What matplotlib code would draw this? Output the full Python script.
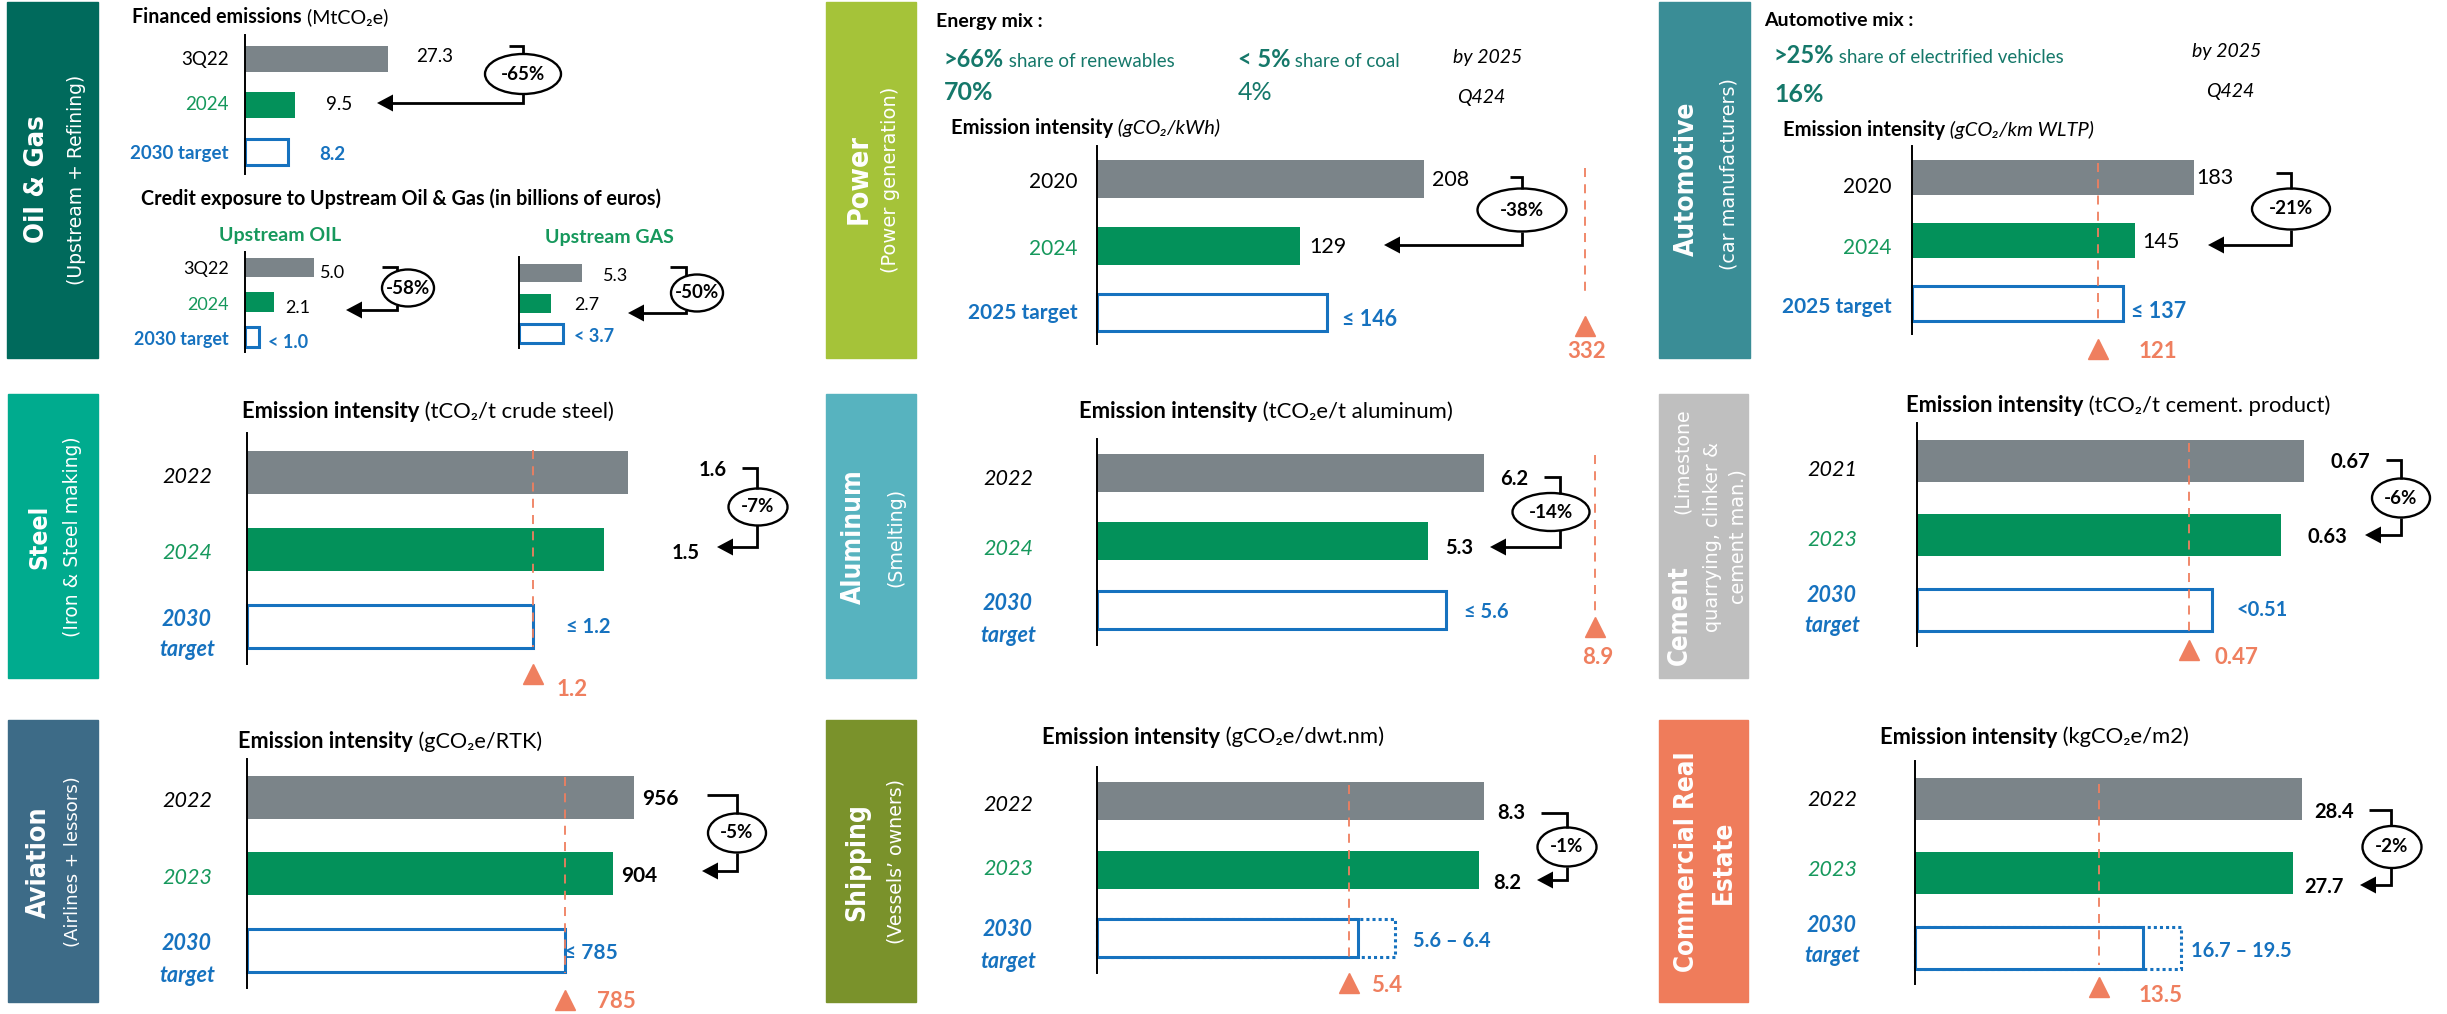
import numpy as np
import matplotlib
matplotlib.use('Agg')
import matplotlib.pyplot as plt
from matplotlib import font_manager as fm
from matplotlib.patches import Rectangle, Ellipse, Polygon
from matplotlib.transforms import blended_transform_factory

# ---------------- data ----------------
oil_cats = ['3Q22', '2024', '2030 target']
oil_fin_vals = [27.3, 9.5, 8.2]
oil_fin_labels = ['27.3', '9.5', '8.2']
oil_fin_change = '-65%'
up_oil_vals = [5.0, 2.1, 1.0]
up_oil_labels = ['5.0', '2.1', '< 1.0']
up_oil_change = '-58%'
up_gas_vals = [5.3, 2.7, 3.7]
up_gas_labels = ['5.3', '2.7', '< 3.7']
up_gas_change = '-50%'

power_cats = ['2020', '2024', '2025 target']
power_vals = [208, 129, 146]
power_labels = ['208', '129', '≤ 146']
power_change = '-38%'
power_ref = 332
power_mix_targets = ['>66%', '< 5%']
power_mix_desc = [' share of renewables', ' share of coal']
power_mix_actual = ['70%', '4%']

auto_cats = ['2020', '2024', '2025 target']
auto_vals = [183, 145, 137]
auto_labels = ['183', '145', '≤ 137']
auto_change = '-21%'
auto_ref = 121
auto_mix_target = '>25%'
auto_mix_desc = ' share of electrified vehicles'
auto_mix_actual = '16%'

steel_cats = ['2022', '2024', '2030 target']
steel_vals = [1.6, 1.5, 1.2]
steel_labels = ['1.6', '1.5', '≤ 1.2']
steel_change = '-7%'
steel_ref = 1.2

alu_cats = ['2022', '2024', '2030 target']
alu_vals = [6.2, 5.3, 5.6]
alu_labels = ['6.2', '5.3', '≤ 5.6']
alu_change = '-14%'
alu_ref = 8.9

cem_cats = ['2021', '2023', '2030 target']
cem_vals = [0.67, 0.63, 0.51]
cem_labels = ['0.67', '0.63', '<0.51']
cem_change = '-6%'
cem_ref = 0.47

avi_cats = ['2022', '2023', '2030 target']
avi_vals = [956, 904, 785]
avi_labels = ['956', '904', '≤ 785']
avi_change = '-5%'
avi_ref = 785

ship_cats = ['2022', '2023', '2030 target']
ship_vals = [8.3, 8.2, 5.6]
ship_upper = 6.4
ship_labels = ['8.3', '8.2', '5.6 – 6.4']
ship_change = '-1%'
ship_ref = 5.4

cre_cats = ['2022', '2023', '2030 target']
cre_vals = [28.4, 27.7, 16.7]
cre_upper = 19.5
cre_labels = ['28.4', '27.7', '16.7 – 19.5']
cre_change = '-2%'
cre_ref = 13.5

# ---------------- style ----------------
GREY = '#7B8489'
GREEN = '#03915A'
GREEN_T = '#16985C'
BLUE = '#1672BF'
ORANGE = '#EF7F5F'
TEAL = '#15786A'
FONT = ['Lato', 'DejaVu Sans']
BOXFONT_SUB = ['DejaVu Sans']

# pick a condensed / narrow bold face for the sector names if one is installed
BOXFONT, BOXSTRETCH = ['DejaVu Sans'], 'normal'
_cands = []
for f in fm.fontManager.ttflist:
    st = str(f.stretch).lower()
    if 'condensed' in st or 'narrow' in f.name.lower() or 'condensed' in f.name.lower():
        _cands.append(f)
if _cands:
    _cands.sort(key=lambda f: (0 if 'DejaVu' in f.name else 1 if 'Liberation' in f.name else 2))
    BOXFONT, BOXSTRETCH = [_cands[0].name], str(_cands[0].stretch)

W, H = 2447, 1014
fig = plt.figure(figsize=(W / 100, H / 100), dpi=100)
P = fig.add_axes([0, 0, 1, 1])
P.set_xlim(0, W)
P.set_ylim(H, 0)
P.axis('off')
R = fig.canvas.get_renderer()


def T(x, y, s, size=14, weight='normal', style='normal', color='black', ha='left',
      va='center', rot=0, family=FONT, **kw):
    return P.text(x, y, s, fontsize=size, fontweight=weight, fontstyle=style, color=color,
                  ha=ha, va=va, rotation=rot, family=family, **kw)


def width(t):
    return t.get_window_extent(renderer=R).width


def line(x, y, parts, fit=None, va='center'):
    texts = [T(x, y, s, va=va, **kw) for s, kw in parts]
    if fit:
        tot = sum(width(t) for t in texts)
        f = fit / tot
        for t in texts:
            t.set_fontsize(t.get_fontsize() * f)
    cx = x
    for t in texts:
        t.set_x(cx)
        cx += width(t)
    return texts


def boxtext(x, y, s, length, weight='bold', ha='center', size=None, color='white'):
    if weight == 'bold':
        fam, stretch = BOXFONT, BOXSTRETCH
    else:
        fam, stretch = BOXFONT_SUB, 'normal'
    t = T(x, y, s, size=20, weight=weight, family=fam, color=color, rot=90, ha=ha,
          va='center', rotation_mode='anchor', fontstretch=stretch)
    if size is None:
        h = t.get_window_extent(renderer=R).height
        size = 20 * length / h
    t.set_fontsize(size)
    return size


def bracket(xl, xv, yt, ex, ey, ew, eh, yb, xtip, label):
    a, b = ew / 2, eh / 2
    d = b * np.sqrt(max(0.0, 1 - ((xv - ex) / a) ** 2))
    kw = dict(color='black', lw=2, solid_joinstyle='miter', solid_capstyle='butt')
    P.plot([xl, xv, xv], [yt, yt, ey - d], **kw)
    P.plot([xv, xv, xtip + 12], [ey + d, yb, yb], **kw)
    P.add_patch(Polygon([[xtip, yb], [xtip + 16, yb - 8.5], [xtip + 16, yb + 8.5]],
                        closed=True, fc='black', ec='none'))
    P.add_patch(Ellipse((ex, ey), ew, eh, fill=False, ec='black', lw=1.7))
    T(ex, ey, label, size=13.5, weight='bold', ha='center')


def chart(x0, x1, ytop, ybot, c0, step, bar_h, scale, vals, upper=None):
    ax = fig.add_axes([x0 / W, 1 - ybot / H, (x1 - x0) / W, (ybot - ytop) / H])
    ax.set_xlim(0, (x1 - x0) / scale)
    ylo, yhi = (ybot - c0) / step, (ytop - c0) / step
    ax.set_ylim(ylo, yhi)
    ax.axis('off')
    h = bar_h / step
    bars = ax.barh([0, 1], vals[:2], height=h, color=[GREY, GREEN], zorder=2)
    for b in bars:
        b.set_clip_on(False)
    if upper is not None:
        ub = ax.barh([2], [upper], height=h, fill=False, edgecolor=BLUE, linewidth=2.2,
                     linestyle=(0, (1, 1)), zorder=2)
        ub[0].set_clip_on(False)
    tb = ax.barh([2], [vals[2]], height=h, facecolor='white', edgecolor=BLUE,
                 linewidth=2.2, zorder=3)
    tb[0].set_clip_on(False)
    ax.plot([0, 0], [ylo, yhi], color='black', lw=1.4, zorder=5, clip_on=False)
    return ax


def refmark(ax, ref, y1, y2, ytri, label, lx, ly, ha='left'):
    xr = min(ref, ax.get_xlim()[1])
    tr = blended_transform_factory(ax.transData, P.transData)
    ax.plot([xr, xr], [y1, y2], transform=tr, color=ORANGE, lw=1.3, ls=(0, (5, 4)),
            clip_on=False, zorder=6)
    ax.plot([xr], [ytri], transform=tr, marker='^', ms=14, color=ORANGE, ls='none',
            clip_on=False, zorder=6)
    px = P.transData.inverted().transform(ax.transData.transform((xr, 0)))[0]
    T(px + lx, ly, label, size=16, weight='bold', color=ORANGE, ha=ha)


def title(x, y, unit, fit, unit_style='normal'):
    line(x, y, [('Emission intensity', dict(size=15, weight='bold')),
                (' ' + unit, dict(size=15, style=unit_style))], fit=fit)


def italic_cats(xc, ys, cats, size=15.5):
    cols = ['black', GREEN_T]
    for i in range(2):
        T(xc, ys[i], cats[i], size=size, style='italic', color=cols[i], ha='center')
    w1, w2 = cats[2].split(' ')
    T(xc, ys[2], w1, size=size, style='italic', weight='bold', color=BLUE, ha='center')
    T(xc, ys[3], w2, size=size, style='italic', weight='bold', color=BLUE, ha='center')


def plain_cats(xr, ys, cats, size):
    cols = ['black', GREEN_T, BLUE]
    for i in range(3):
        T(xr, ys[i], cats[i], size=size, color=cols[i], weight='bold' if i == 2 else 'normal',
          ha='right')


def values(pos, labels, size, bold_all=False, has=('left', 'left', 'left')):
    for i, ((x, y), lab) in enumerate(zip(pos, labels)):
        T(x, y, lab, size=size, color=BLUE if i == 2 else 'black',
          weight='bold' if (bold_all or i == 2) else 'normal', ha=has[i])


# ================= OIL & GAS =================
P.add_patch(Rectangle((7, 2), 91, 356, color='#006A5C'))
boxtext(37, 179, 'Oil & Gas', 128)
boxtext(76, 180, '(Upstream + Refining)', 210, weight='normal')
line(132, 17, [('Financed emissions', dict(size=15, weight='bold')),
               (' (MtCO₂e)', dict(size=15))], fit=256)
ax = chart(245, 545, 35, 174, 59, 46.25, 26, 5.24, oil_fin_vals)
plain_cats(229, [59, 105, 153], oil_cats, 13.5)
values([(416, 56), (326, 104), (319, 155)], oil_fin_labels, 13.5)
bracket(509, 523, 46, 523, 74, 76, 40, 103, 377, oil_fin_change)

line(141, 199, [('Credit exposure to Upstream Oil & Gas (in billions of euros)',
                 dict(size=14, weight='bold'))], fit=522)
T(280, 235, 'Upstream OIL', size=14, weight='bold', color=GREEN_T, ha='center')
T(609, 238, 'Upstream GAS', size=14, weight='bold', color=GREEN_T, ha='center')
ax = chart(245, 420, 252, 352, 267.5, 34.75, 19.5, 13.8, up_oil_vals)
plain_cats(229, [269, 305, 339], oil_cats, 13)
values([(320, 273), (285, 308), (268, 342)], up_oil_labels, 13)
bracket(382, 397, 267, 408, 288, 52, 37, 310, 346, up_oil_change)
ax = chart(519, 700, 257, 348, 273, 30.25, 18.5, 11.9, up_gas_vals)
values([(603, 276), (574, 305), (574, 336)], up_gas_labels, 13)
bracket(670, 686, 267, 697, 293, 52, 37, 313, 628, up_gas_change)

# ================= POWER =================
P.add_patch(Rectangle((826, 2), 90, 356, color='#A5C339'))
boxtext(859, 179, 'Power', 90)
boxtext(891, 180, '(Power generation)', 186, weight='normal')
T(936, 22, 'Energy mix :', size=14, weight='bold')
line(944, 67, [(power_mix_targets[0], dict(size=17, weight='bold', color=TEAL)),
               (power_mix_desc[0], dict(size=13.5, color=TEAL))], va='baseline')
line(1238, 67, [(power_mix_targets[1], dict(size=17, weight='bold', color=TEAL)),
                (power_mix_desc[1], dict(size=13.5, color=TEAL))], va='baseline')
T(1453, 57, 'by 2025', size=14, style='italic')
T(944, 93, power_mix_actual[0], size=18, weight='bold', color=TEAL)
T(1238, 93, power_mix_actual[1], size=18, color=TEAL)
T(1457, 97, 'Q424', size=14, style='italic')
line(951, 128, [('Emission intensity', dict(size=15, weight='bold')),
                (' (gCO₂/kWh)', dict(size=15, style='italic'))], fit=269)
ax = chart(1097, 1585, 146, 344, 179, 66.75, 37.5, 1.572, power_vals)
plain_cats(1078, [182, 249, 313], power_cats, 15)
values([(1432, 180), (1309, 247), (1342, 319)], power_labels, 15.5)
bracket(1510, 1522, 177, 1522, 210, 89, 43, 245, 1384, power_change)
refmark(ax, power_ref, 168, 295, 326, str(power_ref), 2, 351, ha='center')

# ================= AUTOMOTIVE =================
P.add_patch(Rectangle((1659, 2), 91, 356, color='#3A8D96'))
boxtext(1687, 179, 'Automotive', 155)
boxtext(1729, 174, '(car manufacturers)', 192, weight='normal')
T(1764, 20, 'Automotive mix :', size=14, weight='bold')
line(1774, 63, [(auto_mix_target, dict(size=17, weight='bold', color=TEAL)),
                (auto_mix_desc, dict(size=13.5, color=TEAL))], va='baseline')
T(2192, 51, 'by 2025', size=14, style='italic')
T(1774, 94, auto_mix_actual, size=18, weight='bold', color=TEAL)
T(2206, 92, 'Q424', size=14, style='italic')
line(1783, 130, [('Emission intensity', dict(size=15, weight='bold')),
                 (' (gCO₂/km WLTP)', dict(size=15, style='italic'))], fit=311)
ax = chart(1912, 2250, 146, 334, 177, 63.25, 35, 1.541, auto_vals)
plain_cats(1892, [187, 248, 307], auto_cats, 15)
values([(2196, 178), (2142, 242), (2131, 311)], auto_labels, 15.5)
bracket(2276, 2291, 173, 2291, 209, 78, 41, 245, 2208, auto_change)
refmark(ax, auto_ref, 163, 320, 349, str(auto_ref), 40, 352)

# ================= STEEL =================
P.add_patch(Rectangle((8, 394), 90, 284, color='#00AB8E'))
boxtext(39, 537, 'Steel', 64)
boxtext(73, 537, '(Iron & Steel making)', 201, weight='normal')
title(242, 412, '(tCO₂/t crude steel)', 373)
ax = chart(247, 747, 433, 664, 472, 77, 43, 238, steel_vals)
italic_cats(187, [477, 553, 619, 649], steel_cats)
values([(727, 470), (700, 553), (566, 627)], steel_labels, 14.5, bold_all=True,
       has=('right', 'right', 'left'))
bracket(742, 757, 468, 758, 507, 59, 37, 547, 717, steel_change)
refmark(ax, steel_ref, 450, 647, 674, str(steel_ref), 24, 690)

# ================= ALUMINUM =================
P.add_patch(Rectangle((826, 394), 90, 284, color='#57B3BF'))
boxtext(854, 537, 'Aluminum', 135)
boxtext(896, 537, '(Smelting)', 99, weight='normal')
title(1079, 412, '(tCO₂e/t aluminum)', 375)
ax = chart(1097, 1595, 439, 645, 473, 68.25, 38, 62.4, alu_vals)
italic_cats(1008, [479, 549, 604, 635], alu_cats)
values([(1500, 479), (1445, 548), (1464, 612)], alu_labels, 14.5, bold_all=True)
bracket(1544, 1560, 477, 1551, 512, 77, 38, 547, 1490, alu_change)
refmark(ax, alu_ref, 455, 612, 627, str(alu_ref), 3, 658, ha='center')

# ================= CEMENT =================
P.add_patch(Rectangle((1659, 394), 89, 284, color='#BFBFBF'))
s = boxtext(1680, 665, 'Cement', 100, ha='left')
boxtext(1682, 408, '(Limestone', 105, weight='normal', ha='right')
s2 = boxtext(1712, 537, 'quarrying, clinker &', 190, weight='normal')
boxtext(1738, 537, 'cement man.)', None, weight='normal', size=s2)
title(1906, 406, '(tCO₂/t cement. product)', 426)
ax = chart(1917, 2350, 423, 646, 461, 74.25, 42, 578, cem_vals)
italic_cats(1832, [470, 540, 595, 625], cem_cats)
values([(2370, 462), (2347, 537), (2237, 610)], cem_labels, 14.5, bold_all=True,
       has=('right', 'right', 'left'))
bracket(2386, 2401, 460, 2401, 498, 58, 39, 535, 2365, cem_change)
refmark(ax, cem_ref, 443, 633, 650, str(cem_ref), 26, 658)

# ================= AVIATION =================
P.add_patch(Rectangle((8, 720), 90, 282, color='#3D6B87'))
boxtext(39, 862, 'Aviation', 112)
boxtext(73, 862, '(Airlines + lessors)', 171, weight='normal')
title(238, 742, '(gCO₂e/RTK)', 303)
ax = chart(247, 747, 759, 988, 797, 76.75, 43, 0.405, avi_vals)
italic_cats(187, [801, 878, 944, 975], avi_cats)
values([(642, 799), (621, 876), (564, 953)], avi_labels, 15, bold_all=True)
bracket(707, 737, 795, 737, 833, 58, 39, 871, 702, avi_change)
refmark(ax, avi_ref, 777, 973, 1000, str(avi_ref), 32, 1002)

# ================= SHIPPING =================
P.add_patch(Rectangle((826, 720), 90, 282, color='#7A922B'))
boxtext(857, 862, 'Shipping', 118)
boxtext(896, 862, '(Vessels’ owners)', 165, weight='normal')
title(1042, 737, '(gCO₂e/dwt.nm)', 343)
ax = chart(1097, 1600, 767, 973, 801, 68.5, 38, 46.6, ship_vals, upper=ship_upper)
italic_cats(1008, [805, 869, 930, 961], ship_cats)
values([(1525, 813), (1521, 883), (1413, 941)], ship_labels, 14.5, bold_all=True,
       has=('right', 'right', 'left'))
bracket(1541, 1567, 813, 1567, 847, 59, 39, 880, 1537, ship_change)
refmark(ax, ship_ref, 785, 958, 983, str(ship_ref), 22, 986)

# ================= COMMERCIAL REAL ESTATE =================
P.add_patch(Rectangle((1659, 720), 89, 282, color='#EF7C5B'))
s3 = boxtext(1687, 862, 'Commercial Real', 220)
boxtext(1724, 862, 'Estate', None, size=s3)
title(1880, 737, '(kgCO₂e/m2)', 310)
ax = chart(1915, 2400, 761, 984, 799, 74.25, 42, 13.63, cre_vals, upper=cre_upper)
italic_cats(1832, [800, 870, 925, 956], cre_cats)
values([(2354, 812), (2344, 887), (2191, 951)], cre_labels, 14.5, bold_all=True,
       has=('right', 'right', 'left'))
bracket(2369, 2391, 810, 2392, 847, 59, 42, 885, 2360, cre_change)
refmark(ax, cre_ref, 784, 965, 987, str(cre_ref), 40, 995)

fig.savefig('out.png', dpi=100)
